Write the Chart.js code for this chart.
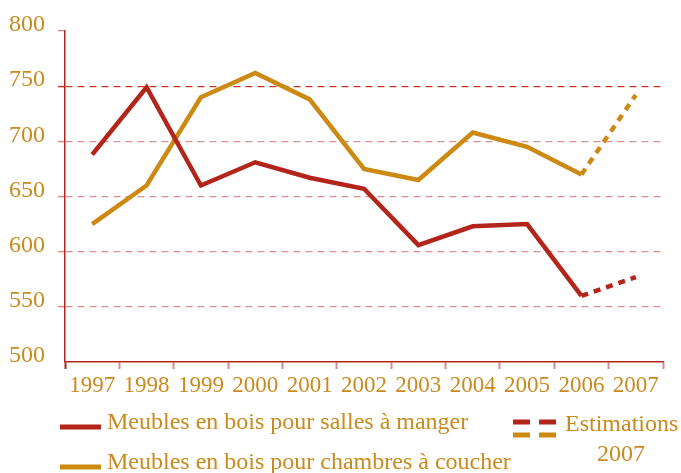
<!DOCTYPE html>
<html>
<head>
<meta charset="utf-8">
<script src="https://cdn.jsdelivr.net/npm/chart.js@4/dist/chart.umd.min.js"></script>
<style>
  html, body { margin: 0; padding: 0; background: #fff; }
  #wrap { width: 681px; height: 473px; }
</style>
</head>
<body>
<div id="wrap"><canvas id="chart" width="681" height="473"></canvas></div>
<script>
// data
const years = ["1997", "1998", "1999", "2000", "2001", "2002", "2003", "2004", "2005", "2006", "2007"];
const sallesAManger = [688, 749, 660, 681, 667, 657, 606, 623, 625, 560, null];
const sallesEstimation = [null, null, null, null, null, null, null, null, null, 560, 577];
const chambres = [625, 660, 740, 762, 738, 675, 665, 708, 695, 670, null];
const chambresEstimation = [null, null, null, null, null, null, null, null, null, 670, 742];
const yTicks = [500, 550, 600, 650, 700, 750, 800];

const RED = "#b3241a";
const GOLD = "#cc8a12";
const TEXT = "#c98a1e";
const FONT = "'Liberation Serif', 'DejaVu Serif', serif";

// legend drawn by hand under the axis
const legendPlugin = {
    id: "customLegend",
    afterDraw(chart) {
        const ctx = chart.ctx;
        ctx.save();
        ctx.font = "24px " + FONT;
        ctx.fillStyle = TEXT;
        ctx.textBaseline = "middle";

        ctx.lineWidth = 5;
        ctx.lineCap = "butt";
        ctx.strokeStyle = RED;
        ctx.beginPath(); ctx.moveTo(60, 427); ctx.lineTo(101, 427); ctx.stroke();
        ctx.fillText("Meubles en bois pour salles à manger", 107, 423);

        ctx.strokeStyle = GOLD;
        ctx.beginPath(); ctx.moveTo(60, 467); ctx.lineTo(101, 467); ctx.stroke();
        ctx.fillText("Meubles en bois pour chambres à coucher", 107, 463);

        ctx.setLineDash([17, 9]);
        ctx.strokeStyle = RED;
        ctx.beginPath(); ctx.moveTo(513, 422); ctx.lineTo(556, 422); ctx.stroke();
        ctx.strokeStyle = GOLD;
        ctx.beginPath(); ctx.moveTo(513, 435); ctx.lineTo(556, 435); ctx.stroke();
        ctx.setLineDash([]);

        ctx.fillText("Estimations", 565, 425);
        ctx.textAlign = "center";
        ctx.fillText("2007", 621, 455);
        ctx.restore();
    }
};

const ctx = document.getElementById("chart").getContext("2d");
new Chart(ctx, {
    type: "line",
    data: {
        labels: years,
        datasets: [
            {
                label: "Meubles en bois pour salles à manger",
                data: sallesAManger,
                borderColor: RED,
                borderWidth: 4.5,
                borderJoinStyle: "miter",
                pointRadius: 0,
                tension: 0,
            },
            {
                label: "Estimations salles à manger",
                data: sallesEstimation,
                borderColor: RED,
                borderWidth: 4.5,
                borderDash: [7, 6],
                pointRadius: 0,
                tension: 0,
            },
            {
                label: "Meubles en bois pour chambres à coucher",
                data: chambres,
                borderColor: GOLD,
                borderWidth: 4.5,
                borderJoinStyle: "miter",
                pointRadius: 0,
                tension: 0,
            },
            {
                label: "Estimations chambres à coucher",
                data: chambresEstimation,
                borderColor: GOLD,
                borderWidth: 4.5,
                borderDash: [7, 6],
                pointRadius: 0,
                tension: 0,
            },
        ],
    },
    options: {
        responsive: false,
        animation: false,
        layout: {
            padding: { left: 10, right: 18, top: 31, bottom: 71 },
        },
        plugins: {
            legend: { display: false },
            tooltip: { enabled: false },
        },
        scales: {
            x: {
                offset: true,
                afterFit(axis) {
                    axis.height = 40;
                },
                grid: {
                    offset: true,
                    drawOnChartArea: false,
                    drawTicks: true,
                    tickLength: 7,
                    tickColor(c) {
                        return c.index === 0 ? RED : "#d98a8a";
                    },
                    tickWidth: 2,
                },
                border: { color: RED, width: 1.5 },
                ticks: {
                    color: TEXT,
                    font: { family: FONT, size: 23 },
                    padding: 3,
                    maxRotation: 0,
                    autoSkip: false,
                },
            },
            y: {
                min: 500,
                max: 800,
                afterBuildTicks(axis) {
                    axis.ticks = yTicks.map(v => ({ value: v }));
                },
                afterFit(axis) {
                    axis.width = 55;
                },
                grid: {
                    color(c) {
                        const v = c.tick && c.tick.value;
                        if (v === 500 || v === 800) return "rgba(0,0,0,0)";
                        if (v === 750) return "#c0392b";
                        return "#db8f8f";
                    },
                    lineWidth: 1.2,
                    drawTicks: true,
                    tickLength: 7,
                    tickColor(c) {
                        const v = c.tick && c.tick.value;
                        if (v === 500) return "rgba(0,0,0,0)";
                        return v === 750 ? "#c0392b" : "#d98a8a";
                    },
                    tickBorderDash: [],
                    tickWidth: 1.5,
                },
                border: { color: RED, width: 1.5, dash: [7, 5] },
                ticks: {
                    color: TEXT,
                    font: { family: FONT, size: 24 },
                    padding: 13,
                    labelOffset: -6,
                },
            },
        },
    },
    plugins: [legendPlugin],
});
</script>
</body>
</html>
